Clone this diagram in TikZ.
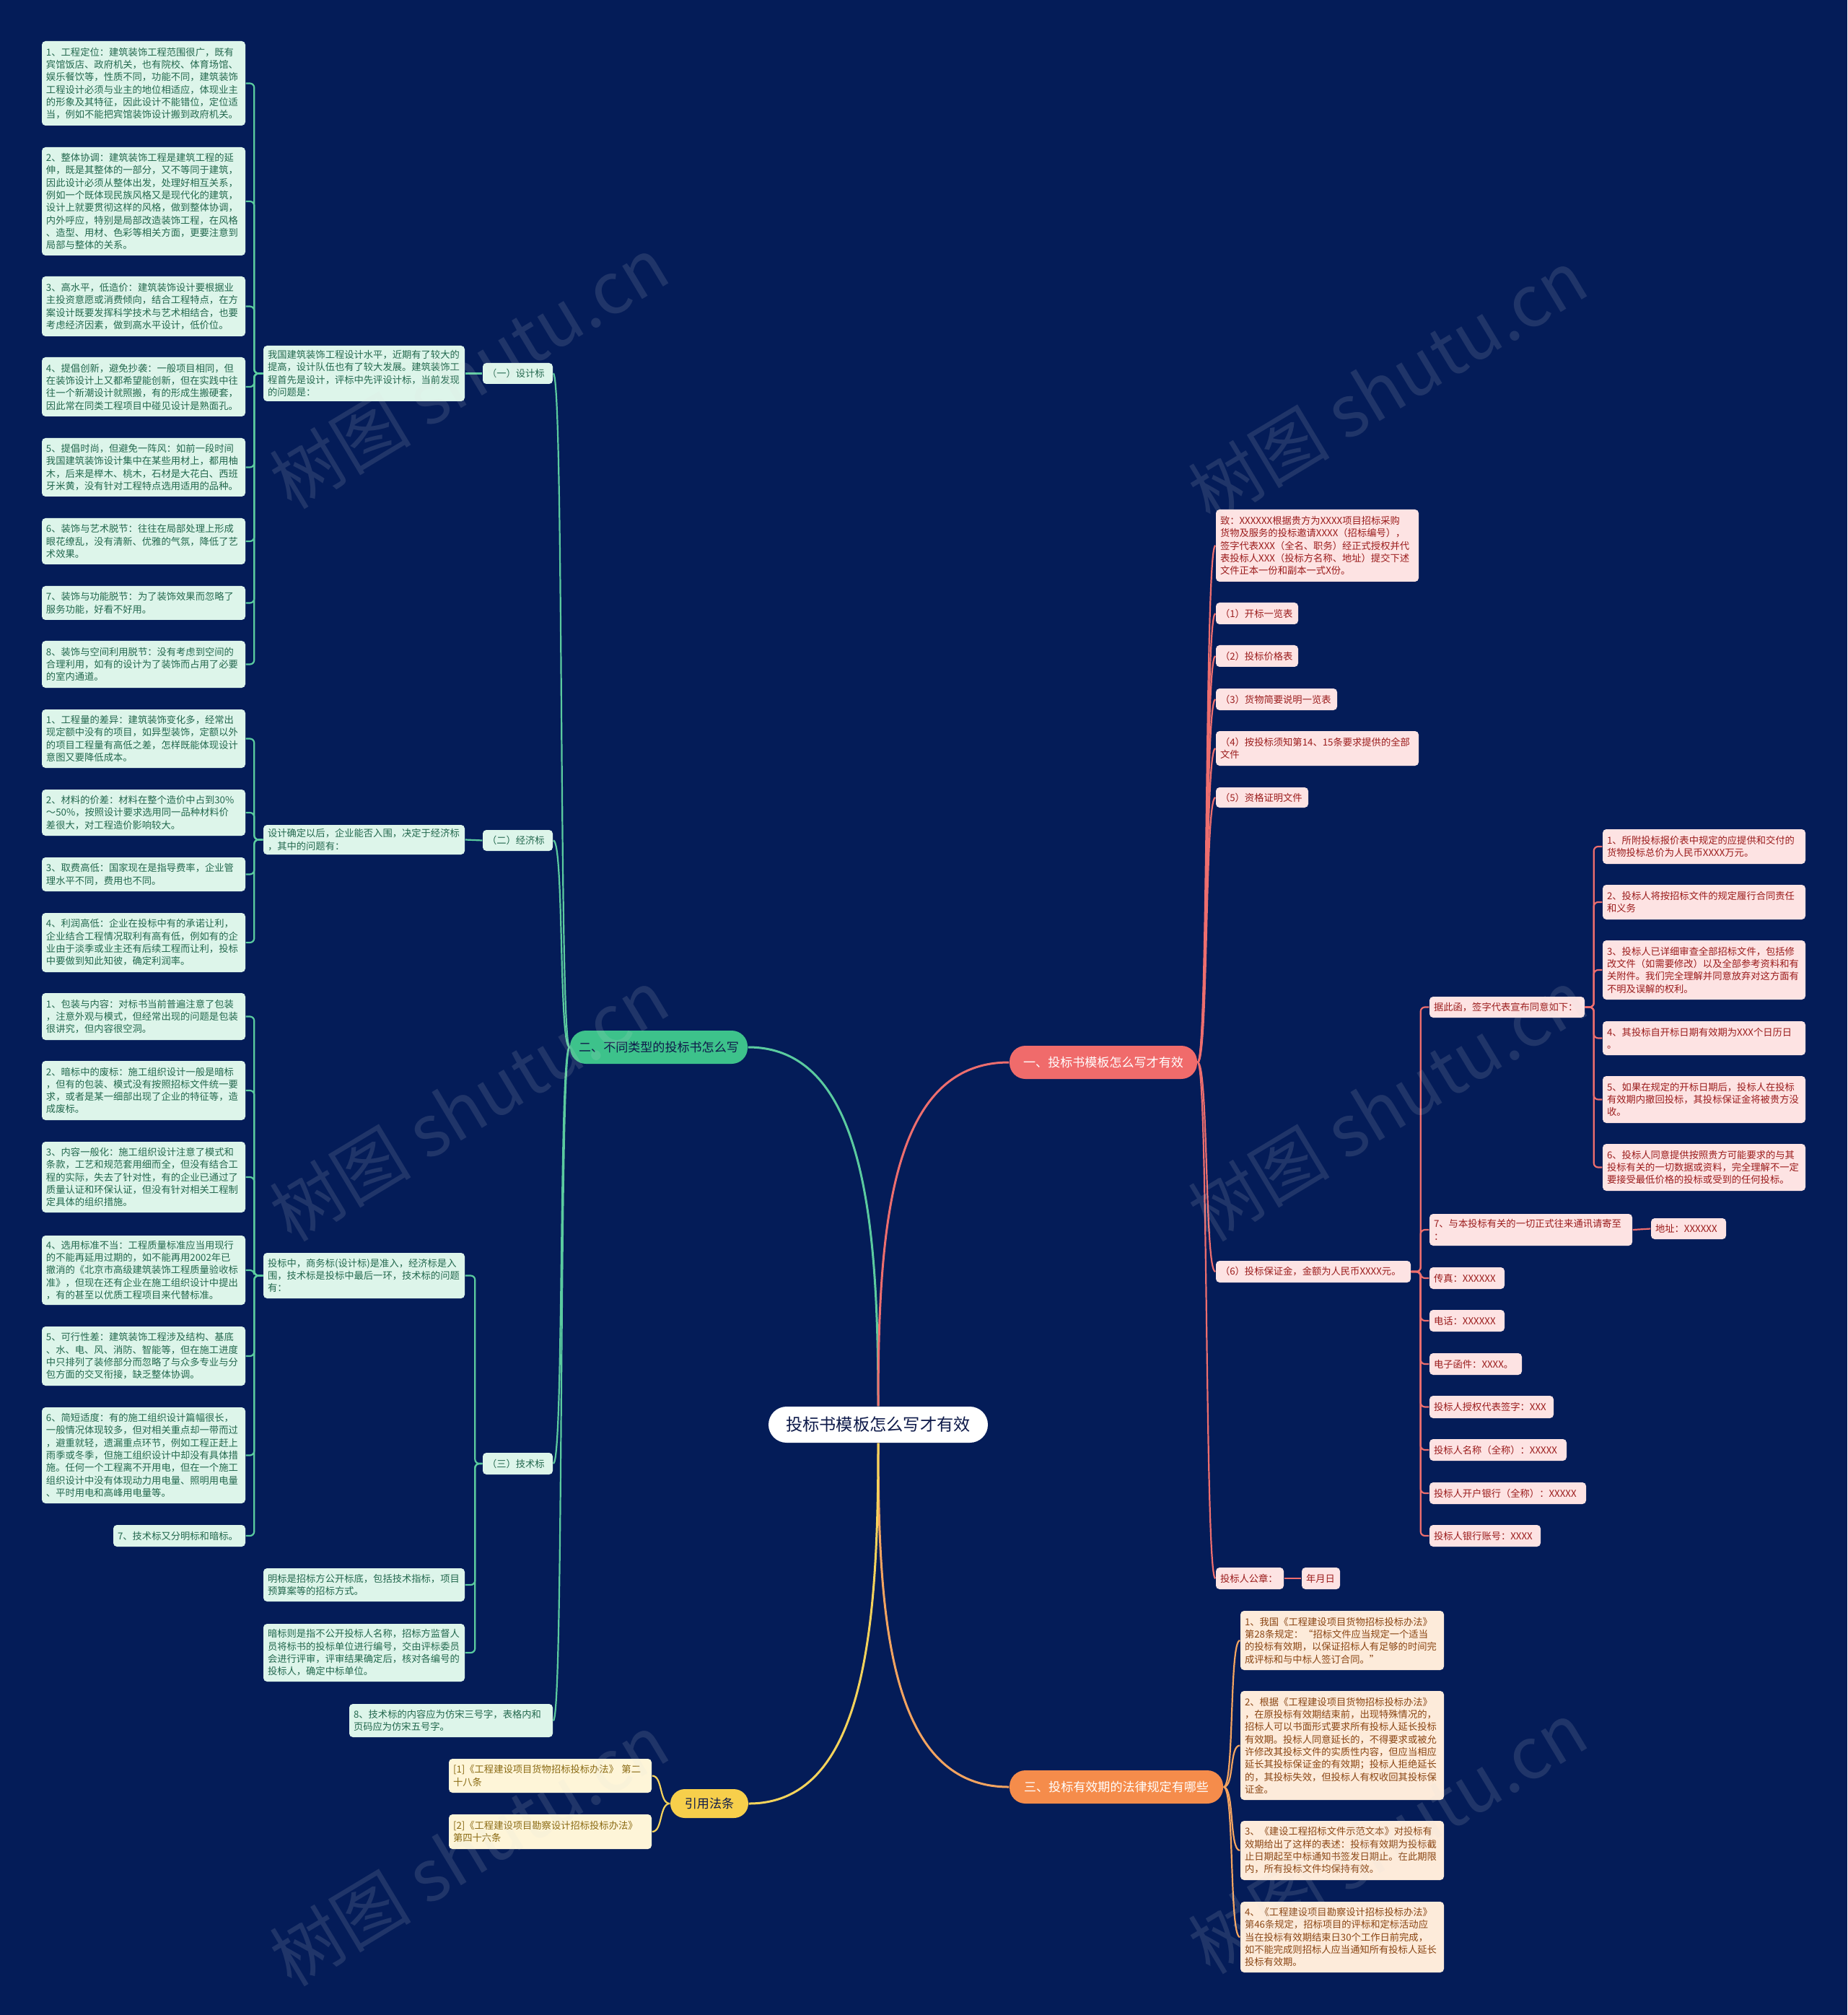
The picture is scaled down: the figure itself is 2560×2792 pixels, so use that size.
\documentclass[tikz,border=0pt]{standalone}
\usepackage{fontspec}
\newfontfamily\cjk{Noto Sans CJK SC}
\definecolor{bgc}{HTML}{041C58}
\definecolor{gfill}{HTML}{DDF5EA}
\definecolor{gtext}{HTML}{23684E}
\definecolor{gline}{HTML}{5BCB9F}
\definecolor{gmain}{HTML}{3DC28B}
\definecolor{rfill}{HTML}{FDE3E3}
\definecolor{rtext}{HTML}{9B1C1C}
\definecolor{rline}{HTML}{EE6E6E}
\definecolor{rmain}{HTML}{F06B6B}
\definecolor{ofill}{HTML}{FDEBDA}
\definecolor{otext}{HTML}{8A4513}
\definecolor{oline}{HTML}{F4A460}
\definecolor{omain}{HTML}{F58C4B}
\definecolor{yfill}{HTML}{FEF5D8}
\definecolor{ytext}{HTML}{8A6A12}
\definecolor{yline}{HTML}{F5D35B}
\definecolor{ymain}{HTML}{F7CF4B}
\definecolor{ctext}{HTML}{0E1A4A}
\newcommand\bx[7]{%
  \pgfmathsetlengthmacro\bxw{((#5)-(#3))*0.01cm}%
  \pgfmathsetlengthmacro\bxh{((#6)-(#4))*0.01cm}%
  \pgfmathsetlengthmacro\bxt{((#5)-(#3)-12)*0.01cm}%
  \node[#2,minimum width=\bxw,minimum height=\bxh,text width=\bxt] (#1) at ({((#3)+(#5))/2},{((#4)+(#6))/2}) {#7};%
}
\newcommand\cL[3]{\draw[#1] (#2.west) .. controls +(-15,0) and +(15,0) .. (#3.east);}
\newcommand\cR[3]{\draw[#1] (#2.east) .. controls +(15,0) and +(-15,0) .. (#3.west);}
\newcommand\eL[4]{\draw[#1,rounded corners=0.06cm] (#2.west) -- ++(-#4,0) |- (#3.east);}
\newcommand\eR[4]{\draw[#1,rounded corners=0.06cm] (#2.east) -- ++(#4,0) |- (#3.west);}
\begin{document}
\begin{tikzpicture}[x=0.01cm,y=-0.01cm,
  box/.style={rounded corners=0.05cm, inner sep=0pt, align=left, font=\cjk\fontsize{3.78}{4.92}\selectfont},
  gb/.style={box, fill=gfill, text=gtext},
  rb/.style={box, fill=rfill, text=rtext},
  ob/.style={box, fill=ofill, text=otext},
  yb/.style={box, fill=yfill, text=ytext},
  mainb/.style={rounded corners=0.22cm, inner sep=0pt, align=center, font=\cjk\fontsize{4.85}{6}\selectfont},
  gl/.style={draw=gline, line width=0.022cm},
  rl/.style={draw=rline, line width=0.022cm},
  ol/.style={draw=oline, line width=0.022cm},
  yl/.style={draw=yline, line width=0.022cm},
  ml/.style={line width=0.03cm},
  wm/.style={rotate=31, text=white!75!gray, text opacity=0.13, font=\cjk\fontsize{28}{30}\selectfont}
]
\fill[bgc] (0,0) rectangle (2560,2792);
\useasboundingbox (0,0) rectangle (2560,2792);

% ---------- center and main nodes
\bx{c}{mainb, fill=white, text=ctext, rounded corners=0.25cm, font=\cjk\fontsize{6.6}{8}\selectfont}{1065}{1949}{1369}{1999}{投标书模板怎么写才有效}
\bx{m1}{mainb, fill=rmain, text=white}{1399}{1449}{1659}{1495}{一、投标书模板怎么写才有效}
\bx{m2}{mainb, fill=gmain, text=ctext}{790}{1428}{1036}{1474}{二、不同类型的投标书怎么写}
\bx{m3}{mainb, fill=omain, text=white}{1399}{2453}{1695}{2499}{三、投标有效期的法律规定有哪些}
\bx{m4}{mainb, fill=ymain, text=ctext, rounded corners=0.2cm}{929}{2479}{1037}{2519}{引用法条}

\draw[ml, draw=gline] (m2.east) .. controls (1200,1451) and (1217,1700) .. (c.north);
\draw[ml, draw=rline] (m1.west) .. controls (1234,1472) and (1217,1700) .. (c.north);
\draw[ml, draw=oline] (c.south) .. controls (1217,2250) and (1234,2476) .. (m3.west);
\draw[ml, draw=yline] (c.south) .. controls (1217,2250) and (1200,2499) .. (m4.east);

% ---------- green: design
\bx{D1}{gb}{58}{57}{340}{174}{1、工程定位：建筑装饰工程范围很广，既有\\宾馆饭店、政府机关，也有院校、体育场馆、\\娱乐餐饮等，性质不同，功能不同，建筑装饰\\工程设计必须与业主的地位相适应，体现业主\\的形象及其特征，因此设计不能错位，定位适\\当，例如不能把宾馆装饰设计搬到政府机关。}
\bx{D2}{gb}{58}{204}{340}{354}{2、整体协调：建筑装饰工程是建筑工程的延\\伸，既是其整体的一部分，又不等同于建筑，\\因此设计必须从整体出发，处理好相互关系，\\例如一个既体现民族风格又是现代化的建筑，\\设计上就要贯彻这样的风格，做到整体协调，\\内外呼应，特别是局部改造装饰工程，在风格\\、造型、用材、色彩等相关方面，更要注意到\\局部与整体的关系。}
\bx{D3}{gb}{58}{383}{340}{466}{3、高水平，低造价：建筑装饰设计要根据业\\主投资意愿或消费倾向，结合工程特点，在方\\案设计既要发挥科学技术与艺术相结合，也要\\考虑经济因素，做到高水平设计，低价位。}
\bx{D4}{gb}{58}{495}{340}{577}{4、提倡创新，避免抄袭：一般项目相同，但\\在装饰设计上又都希望能创新，但在实践中往\\往一个新潮设计就照搬，有的形成生搬硬套，\\因此常在同类工程项目中碰见设计是熟面孔。}
\bx{D5}{gb}{58}{607}{340}{688}{5、提倡时尚，但避免一阵风：如前一段时间\\我国建筑装饰设计集中在某些用材上，都用柚\\木，后来是榉木、桃木，石材是大花白、西班\\牙米黄，没有针对工程特点选用适用的品种。}
\bx{D6}{gb}{58}{718}{340}{782}{6、装饰与艺术脱节：往往在局部处理上形成\\眼花缭乱，没有清新、优雅的气氛，降低了艺\\术效果。}
\bx{D7}{gb}{58}{812}{340}{859}{7、装饰与功能脱节：为了装饰效果而忽略了\\服务功能，好看不好用。}
\bx{D8}{gb}{58}{888}{340}{953}{8、装饰与空间利用脱节：没有考虑到空间的\\合理利用，如有的设计为了装饰而占用了必要\\的室内通道。}
\bx{Di}{gb}{365}{479}{644}{556}{我国建筑装饰工程设计水平，近期有了较大的\\提高，设计队伍也有了较大发展。建筑装饰工\\程首先是设计，评标中先评设计标，当前发现\\的问题是：}
\bx{L1}{gb}{669}{503}{766}{532}{（一）设计标}

% ---------- green: economics
\bx{E1}{gb}{58}{983}{340}{1064}{1、工程量的差异：建筑装饰变化多，经常出\\现定额中没有的项目，如异型装饰，定额以外\\的项目工程量有高低之差，怎样既能体现设计\\意图又要降低成本。}
\bx{E2}{gb}{58}{1094}{340}{1158}{2、材料的价差：材料在整个造价中占到30\%\\～50\%，按照设计要求选用同一品种材料价\\差很大，对工程造价影响较大。}
\bx{E3}{gb}{58}{1188}{340}{1235}{3、取费高低：国家现在是指导费率，企业管\\理水平不同，费用也不同。}
\bx{E4}{gb}{58}{1265}{340}{1347}{4、利润高低：企业在投标中有的承诺让利，\\企业结合工程情况取利有高有低，例如有的企\\业由于淡季或业主还有后续工程而让利，投标\\中要做到知此知彼，确定利润率。}
\bx{Ei}{gb}{365}{1143}{644}{1184}{设计确定以后，企业能否入围，决定于经济标\\，其中的问题有：}
\bx{L2}{gb}{669}{1150}{766}{1179}{（二）经济标}

% ---------- green: technical
\bx{T1}{gb}{58}{1376}{340}{1441}{1、包装与内容：对标书当前普遍注意了包装\\，注意外观与模式，但经常出现的问题是包装\\很讲究，但内容很空洞。}
\bx{T2}{gb}{58}{1470}{340}{1552}{2、暗标中的废标：施工组织设计一般是暗标\\，但有的包装、模式没有按照招标文件统一要\\求，或者是某一细部出现了企业的特征等，造\\成废标。}
\bx{T3}{gb}{58}{1582}{340}{1680}{3、内容一般化：施工组织设计注意了模式和\\条款，工艺和规范套用细而全，但没有结合工\\程的实际，失去了针对性，有的企业已通过了\\质量认证和环保认证，但没有针对相关工程制\\定具体的组织措施。}
\bx{T4}{gb}{58}{1712}{340}{1808}{4、选用标准不当：工程质量标准应当用现行\\的不能再延用过期的，如不能再用2002年已\\撤消的《北京市高级建筑装饰工程质量验收标\\准》，但现在还有企业在施工组织设计中提出\\，有的甚至以优质工程项目来代替标准。}
\bx{T5}{gb}{58}{1838}{340}{1920}{5、可行性差：建筑装饰工程涉及结构、基底\\、水、电、风、消防、智能等，但在施工进度\\中只排列了装修部分而忽略了与众多专业与分\\包方面的交叉衔接，缺乏整体协调。}
\bx{T6}{gb}{58}{1950}{340}{2083}{6、简短适度：有的施工组织设计篇幅很长，\\一般情况体现较多，但对相关重点却一带而过\\，避重就轻，遗漏重点环节，例如工程正赶上\\雨季或冬季，但施工组织设计中却没有具体措\\施。任何一个工程离不开用电，但在一个施工\\组织设计中没有体现动力用电量、照明用电量\\、平时用电和高峰用电量等。}
\bx{T7}{gb}{157}{2113}{340}{2143}{7、技术标又分明标和暗标。}
\bx{Ti}{gb}{365}{1736}{644}{1799}{投标中，商务标(设计标)是准入，经济标是入\\围，技术标是投标中最后一环，技术标的问题\\有：}
\bx{Mg}{gb}{365}{2173}{644}{2219}{明标是招标方公开标底，包括技术指标，项目\\预算案等的招标方式。}
\bx{Ab}{gb}{365}{2250}{644}{2330}{暗标则是指不公开投标人名称，招标方监督人\\员将标书的投标单位进行编号，交由评标委员\\会进行评审，评审结果确定后，核对各编号的\\投标人，确定中标单位。}
\bx{L3}{gb}{669}{2013}{766}{2043}{（三）技术标}
\bx{L4}{gb}{484}{2361}{766}{2407}{8、技术标的内容应为仿宋三号字，表格内和\\页码应为仿宋五号字。}

% ---------- yellow
\bx{Y1}{yb}{622}{2437}{903}{2484}{[1]《工程建设项目货物招标投标办法》 第二\\十八条}
\bx{Y2}{yb}{622}{2514}{903}{2562}{[2]《工程建设项目勘察设计招标投标办法》\\第四十六条}

% ---------- red
\bx{R0}{rb}{1685}{706}{1966}{806}{致：XXXXXX根据贵方为XXXX项目招标采购\\货物及服务的投标邀请XXXX（招标编号），\\签字代表XXX（全名、职务）经正式授权并代\\表投标人XXX（投标方名称、地址）提交下述\\文件正本一份和副本一式X份。}
\bx{R1}{rb}{1685}{835}{1799}{865}{（1）开标一览表}
\bx{R2}{rb}{1685}{894}{1799}{924}{（2）投标价格表}
\bx{R3}{rb}{1685}{954}{1853}{984}{（3）货物简要说明一览表}
\bx{R4}{rb}{1685}{1013}{1966}{1061}{（4）按投标须知第14、15条要求提供的全部\\文件}
\bx{R5}{rb}{1685}{1091}{1813}{1119}{（5）资格证明文件}
\bx{R6}{rb}{1685}{1747}{1955}{1777}{（6）投标保证金，金额为人民币XXXX元。}
\bx{R7}{rb}{1685}{2172}{1779}{2202}{投标人公章：}
\bx{R7a}{rb}{1804}{2172}{1857}{2202}{年月日}
\bx{J}{rb}{1981}{1381}{2196}{1410}{据此函，签字代表宣布同意如下：}
\bx{C1}{rb}{2221}{1149}{2502}{1197}{1、所附投标报价表中规定的应提供和交付的\\货物投标总价为人民币XXXX万元。}
\bx{C2}{rb}{2221}{1226}{2502}{1274}{2、投标人将按招标文件的规定履行合同责任\\和义务}
\bx{C3}{rb}{2221}{1303}{2502}{1385}{3、投标人已详细审查全部招标文件，包括修\\改文件（如需要修改）以及全部参考资料和有\\关附件。我们完全理解并同意放弃对这方面有\\不明及误解的权利。}
\bx{C4}{rb}{2221}{1415}{2502}{1462}{4、其投标自开标日期有效期为XXX个日历日\\。}
\bx{C5}{rb}{2221}{1491}{2502}{1556}{5、如果在规定的开标日期后，投标人在投标\\有效期内撤回投标，其投标保证金将被贵方没\\收。}
\bx{C6}{rb}{2221}{1585}{2502}{1650}{6、投标人同意提供按照贵方可能要求的与其\\投标有关的一切数据或资料，完全理解不一定\\要接受最低价格的投标或受到的任何投标。}
\bx{S7}{rb}{1981}{1682}{2262}{1726}{7、与本投标有关的一切正式往来通讯请寄至\\：}
\bx{S7a}{rb}{2288}{1688}{2392}{1717}{地址：XXXXXX}
\bx{S1}{rb}{1981}{1756}{2085}{1786}{传真：XXXXXX}
\bx{S2}{rb}{1981}{1815}{2085}{1845}{电话：XXXXXX}
\bx{S3}{rb}{1981}{1875}{2109}{1905}{电子函件：XXXX。}
\bx{S4}{rb}{1981}{1934}{2153}{1965}{投标人授权代表签字：XXX}
\bx{S5}{rb}{1981}{1994}{2171}{2024}{投标人名称（全称）：XXXXX}
\bx{S6}{rb}{1981}{2054}{2198}{2084}{投标人开户银行（全称）：XXXXX}
\bx{S8}{rb}{1981}{2113}{2135}{2143}{投标人银行账号：XXXX}

% ---------- orange
\bx{O1}{ob}{1719}{2232}{2001}{2314}{1、我国《工程建设项目货物招标投标办法》\\第28条规定：“招标文件应当规定一个适当\\的投标有效期，以保证招标人有足够的时间完\\成评标和与中标人签订合同。”}
\bx{O2}{ob}{1719}{2343}{2001}{2494}{2、根据《工程建设项目货物招标投标办法》\\，在原投标有效期结束前，出现特殊情况的，\\招标人可以书面形式要求所有投标人延长投标\\有效期。投标人同意延长的，不得要求或被允\\许修改其投标文件的实质性内容，但应当相应\\延长其投标保证金的有效期；投标人拒绝延长\\的，其投标失效，但投标人有权收回其投标保\\证金。}
\bx{O3}{ob}{1719}{2523}{2001}{2605}{3、《建设工程招标文件示范文本》对投标有\\效期给出了这样的表述：投标有效期为投标截\\止日期起至中标通知书签发日期止。在此期限\\内，所有投标文件均保持有效。}
\bx{O4}{ob}{1719}{2635}{2001}{2733}{4、《工程建设项目勘察设计招标投标办法》\\第46条规定，招标项目的评标和定标活动应\\当在投标有效期结束日30个工作日前完成，\\如不能完成则招标人应当通知所有投标人延长\\投标有效期。}

% ---------- connectors
\foreach \n in {L1,L2,L3,L4} {\cL{gl}{m2}{\n}}
\draw[gl] (L1.west) -- (Di.east);
\draw[gl] (L2.west) -- (Ei.east);
\foreach \n in {D1,D2,D3,D4,D5,D6,D7,D8} {\eL{gl}{Di}{\n}{12}}
\foreach \n in {E1,E2,E3,E4} {\eL{gl}{Ei}{\n}{12}}
\foreach \n in {T1,T2,T3,T4,T5,T6,T7} {\eL{gl}{Ti}{\n}{12}}
\foreach \n in {Ti,Mg,Ab} {\eL{gl}{L3}{\n}{10}}
\foreach \n in {Y1,Y2} {\cL{yl}{m4}{\n}}
\foreach \n in {R0,R1,R2,R3,R4,R5,R6,R7} {\cR{rl}{m1}{\n}}
\draw[rl] (R7.east) -- (R7a.west);
\foreach \n in {J,S7,S1,S2,S3,S4,S5,S6,S8} {\eR{rl}{R6}{\n}{13}}
\foreach \n in {C1,C2,C3,C4,C5,C6} {\eR{rl}{J}{\n}{12}}
\draw[rl] (S7.east) -- (S7a.west);
\foreach \n in {O1,O2,O3,O4} {\cR{ol}{m3}{\n}}

% ---------- watermark
\node[wm] at (650,516) {树图 shutu.cn};
\node[wm] at (1923,534) {树图 shutu.cn};
\node[wm] at (650,1531) {树图 shutu.cn};
\node[wm] at (1923,1531) {树图 shutu.cn};
\node[wm] at (650,2563) {树图 shutu.cn};
\node[wm] at (1923,2546) {树图 shutu.cn};
\end{tikzpicture}
\end{document}
